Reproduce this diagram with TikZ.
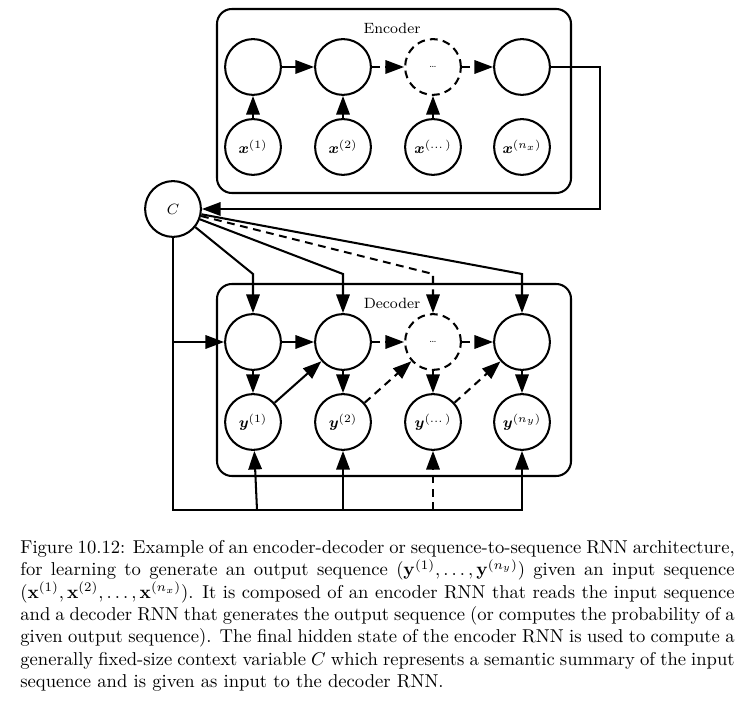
\documentclass[tikz,border=0pt]{standalone}
\usepackage{amsmath}
\usetikzlibrary{arrows.meta}
\begin{document}
\begin{tikzpicture}[x=0.5376pt,y=-0.5376pt,
  unit/.style={circle,draw,line width=1.1pt,minimum size=30pt,inner sep=0pt,font=\footnotesize},
  dunit/.style={unit,dash pattern=on 4.2pt off 2.8pt},
  arr/.style={line width=1.1pt,-{Triangle[length=10pt,width=7.2pt]}},
  darr/.style={arr,dash pattern=on 4.2pt off 3pt},
  panel/.style={draw,line width=1.1pt,rounded corners=8pt},
  lbl/.style={font=\footnotesize,inner sep=1pt},
]
\useasboundingbox (0,0) rectangle (754,704);

% ---- encoder ----
\draw[panel] (217,9) rectangle (571,193);
\node[lbl] (enctitle) at (392,28) {Encoder};
\node[unit]  (e1) at (253,67) {};
\node[unit]  (e2) at (343,67) {};
\node[dunit] (e3) at (433,67) {\tiny\ldots};
\node[unit]  (e4) at (522,67) {};
\node[unit] (x1) at (253,147) {$\boldsymbol{x}^{(1)}$};
\node[unit] (x2) at (343,147) {$\boldsymbol{x}^{(2)}$};
\node[unit] (x3) at (433,147) {$\boldsymbol{x}^{(\dots)}$};
\node[unit] (x4) at (522,147) {$\boldsymbol{x}^{(n_x)}$};
\draw[arr]  (e1) -- (e2);
\draw[darr] (e2) -- (e3);
\draw[darr] (e3) -- (e4);
\draw[arr] (x1) -- (e1);
\draw[arr] (x2) -- (e2);
\draw[arr] (x3) -- (e3);

% ---- context ----
\node[unit] (C) at (173,209) {$C$};
\coordinate (oa) at (600,67);
\coordinate (ob) at (600,209);
\draw[arr] (e4) -- (oa) -- (ob) -- (C);

% ---- decoder ----
\draw[panel] (217,284) rectangle (571,476);
\node[lbl] (dectitle) at (392,303) {Decoder};
\node[unit]  (d1) at (253,342) {};
\node[unit]  (d2) at (343,342) {};
\node[dunit] (d3) at (433,342) {\tiny\ldots};
\node[unit]  (d4) at (522,342) {};
\node[unit] (y1) at (253,422) {$\boldsymbol{y}^{(1)}$};
\node[unit] (y2) at (343,422) {$\boldsymbol{y}^{(2)}$};
\node[unit] (y3) at (433,422) {$\boldsymbol{y}^{(\dots)}$};
\node[unit] (y4) at (522,422) {$\boldsymbol{y}^{(n_y)}$};
\draw[arr]  (d1) -- (d2);
\draw[darr] (d2) -- (d3);
\draw[darr] (d3) -- (d4);
\draw[arr] (d1) -- (y1);
\draw[arr] (d2) -- (y2);
\draw[arr] (d3) -- (y3);
\draw[arr] (d4) -- (y4);
\draw[arr]  (y1) -- (d2);
\draw[darr] (y2) -- (d3);
\draw[darr] (y3) -- (d4);

% context fed to every decoder step
\coordinate (k1) at (253,274);
\coordinate (k2) at (343,274);
\coordinate (k3) at (433,274);
\coordinate (k4) at (522,274);
\draw[arr]  (C) -- (k1) -- (d1);
\draw[arr]  (C) -- (k2) -- (d2);
\draw[darr] (C) -- (k3) -- (d3);
\draw[arr]  (C) -- (k4) -- (d4);

% context as initial state and as input to each output
\coordinate (s0) at (173,342);
\coordinate (b0) at (173,510);
\coordinate (b1) at (257,510);
\coordinate (b2) at (343,510);
\coordinate (b3) at (433,510);
\coordinate (b4) at (522,510);
\draw[arr] (C) -- (b0) -- (b4) -- (y4);
\draw[arr] (s0) -- (d1);
\draw[arr] (b1) -- (y1);
\draw[arr] (b2) -- (y2);
\draw[darr] (b3) -- (y3);

% ---- caption ----
\node[anchor=north west,inner sep=0pt,text width=384pt,align=justify] (cap) at (20,540)
{\noindent Figure 10.12: Example of an encoder-decoder or sequence-to-sequence RNN architecture,\linebreak
for learning to generate an output sequence $(\mathbf{y}^{(1)},\dots,\mathbf{y}^{(n_y)})$ given an input sequence\linebreak
$(\mathbf{x}^{(1)},\mathbf{x}^{(2)},\dots,\mathbf{x}^{(n_x)})$. It is composed of an encoder RNN that reads the input sequence\linebreak
and a decoder RNN that generates the output sequence (or computes the probability of a\linebreak
given output sequence). The final hidden state of the encoder RNN is used to compute a\linebreak
generally fixed-size context variable $C$ which represents a semantic summary of the input\linebreak
sequence and is given as input to the decoder RNN.};
\end{tikzpicture}
\end{document}
